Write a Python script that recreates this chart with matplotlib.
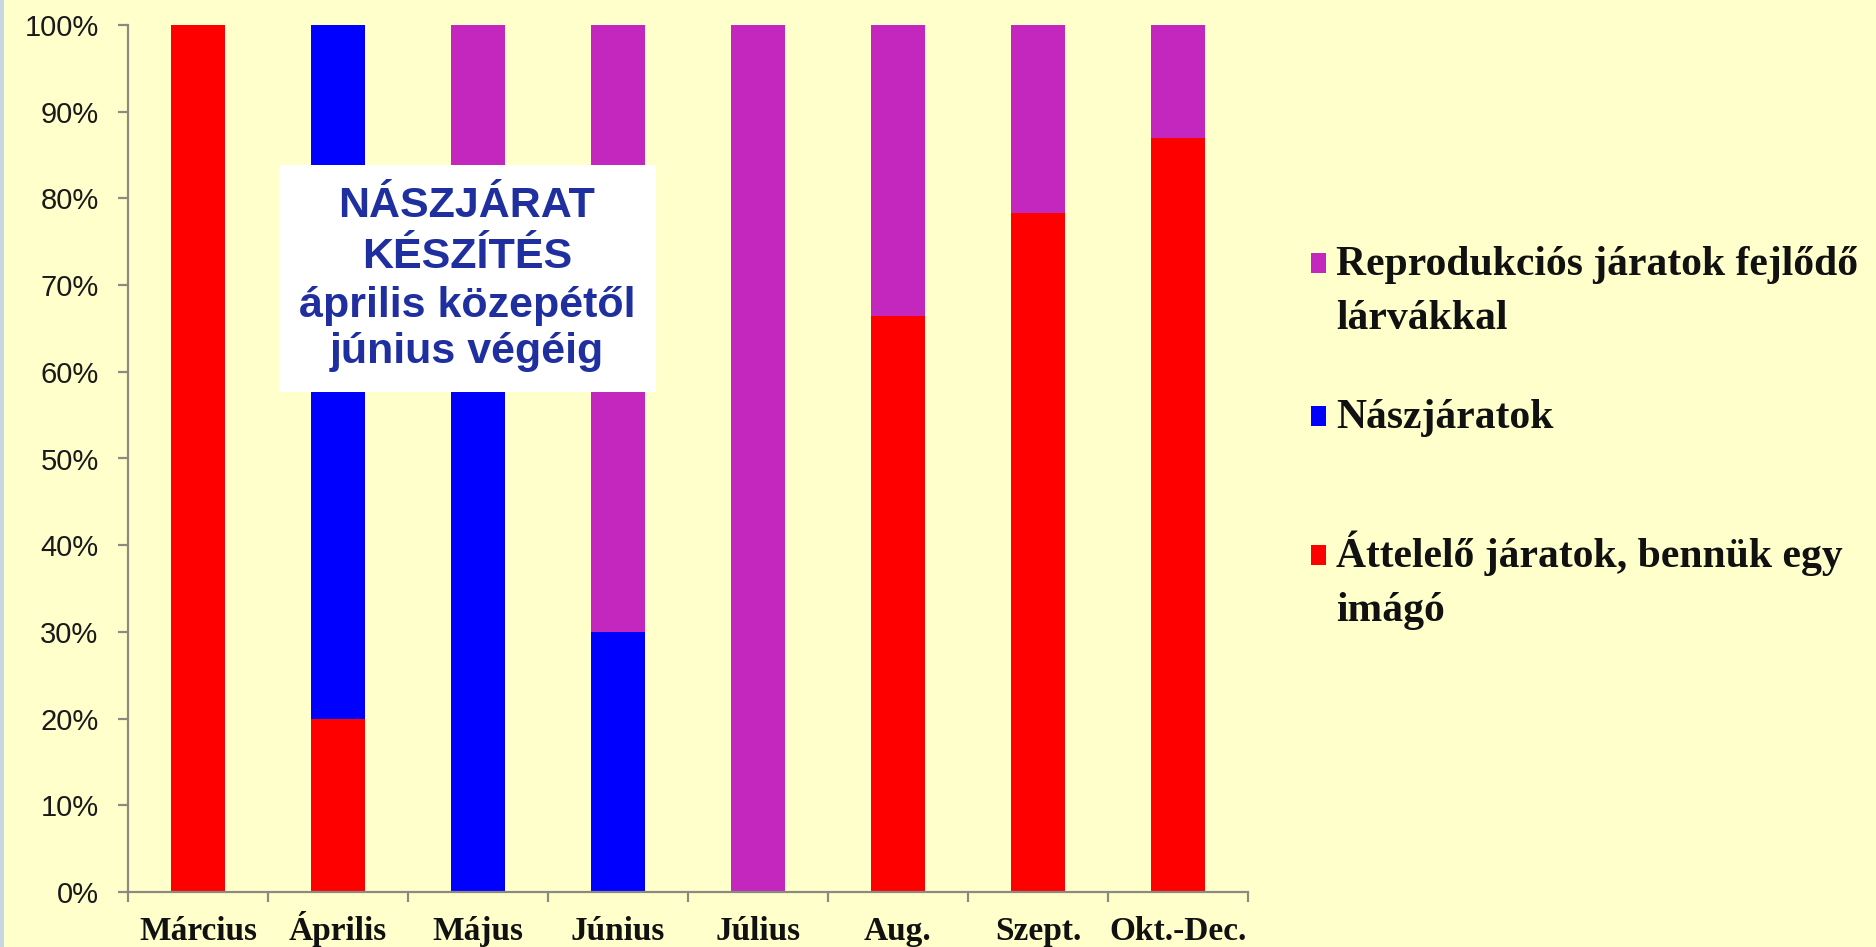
import matplotlib
matplotlib.use('Agg')
import matplotlib.pyplot as plt
from matplotlib.patches import Rectangle
import numpy as np

# ---- data ----
categories = ['Március', 'Április', 'Május', 'Június', 'Július', 'Aug.', 'Szept.', 'Okt.-Dec.']
attelelo = [100, 20, 0, 0, 0, 66.4, 78.3, 87.0]        # red (bottom)
naszjarat = [0, 80, 70, 30, 0, 0, 0, 0]                # blue (middle)
reprodukcio = [0, 0, 30, 70, 100, 33.6, 21.7, 13.0]    # magenta (top)
legend_labels = ['Reprodukciós járatok fejlődő\nlárvákkal',
                 'Nászjáratok',
                 'Áttelelő járatok, bennük egy\nimágó']
yticks = [0, 10, 20, 30, 40, 50, 60, 70, 80, 90, 100]
ytick_labels = [f'{v}%' for v in yticks]
box_lines = ['NÁSZJÁRAT', 'KÉSZÍTÉS', 'április közepétől', 'június végéig']

# ---- style ----
W, H = 1876, 947
bg = '#FFFFCC'
c_red, c_blue, c_mag = '#FF0000', '#0000FF', '#C327BE'
axis_gray = '#8A8A80'

fig = plt.figure(figsize=(W / 100, H / 100), dpi=100)
fig.patch.set_facecolor(bg)
ax = fig.add_axes([128 / W, 55 / H, 1120 / W, 867 / H])
ax.set_facecolor(bg)

x = np.arange(len(categories))
bw = 0.39
red = np.array(attelelo)
blue = np.array(naszjarat)
mag = np.array(reprodukcio)
ax.bar(x, red, bw, color=c_red, zorder=2)
ax.bar(x, blue, bw, bottom=red, color=c_blue, zorder=2)
ax.bar(x, mag, bw, bottom=red + blue, color=c_mag, zorder=2)

ax.set_xlim(-0.5, len(categories) - 0.5)
ax.set_ylim(0, 100)
for s in ['top', 'right']:
    ax.spines[s].set_visible(False)
for s in ['left', 'bottom']:
    ax.spines[s].set_color(axis_gray)
    ax.spines[s].set_linewidth(1.6)

ax.set_yticks(yticks)
ax.set_yticklabels(ytick_labels, fontsize=21, family='Liberation Sans', color='#1a1a1a')
ax.tick_params(axis='y', length=7.2, width=1.6, color=axis_gray, pad=14)

ax.set_xticks(x)
ax.set_xticklabels(categories, fontsize=24, family='Liberation Serif', weight='bold', color='#111111')
ax.tick_params(axis='x', which='major', length=0, pad=34.5)
for lbl in ax.get_xticklabels():
    lbl.set_va('baseline')
ax.set_xticks(np.arange(-0.5, len(categories), 1), minor=True)
ax.tick_params(axis='x', which='minor', length=7.2, width=1.6, color=axis_gray)

# ---- legend (manual, squares aligned with first line) ----
leg_colors = [c_mag, c_blue, c_red]
leg_baselines = [275, 428, 567]
line_step = 54
for lab, col, yb in zip(legend_labels, leg_colors, leg_baselines):
    fig.patches.append(Rectangle((1311 / W, (H - yb + 2) / H), 15 / W, 20 / H,
                                 transform=fig.transFigure, facecolor=col, edgecolor='none'))
    for k, line in enumerate(lab.split('\n')):
        fig.text(1336 / W, (H - yb - k * line_step) / H, line, ha='left', va='baseline',
                 fontsize=30, family='Liberation Serif', weight='bold', color='#111111')

# ---- annotation box ----
fig.patches.append(Rectangle((279 / W, (H - 392) / H), 377 / W, 227 / H,
                             transform=fig.transFigure, facecolor='white', edgecolor='none', zorder=5))
box_baselines = [217, 268, 317, 363]
for line, yb in zip(box_lines, box_baselines):
    fig.text(467 / W, (H - yb) / H, line, ha='center', va='baseline', fontsize=31,
             family='Liberation Sans', weight='bold', color='#1F2F9F', zorder=6)

# left edge strip
fig.patches.append(Rectangle((0, 0), 4 / W, 1, transform=fig.transFigure,
                             facecolor='#C8D6E2', edgecolor='none'))

fig.savefig('out.png', dpi=100, facecolor=bg)
